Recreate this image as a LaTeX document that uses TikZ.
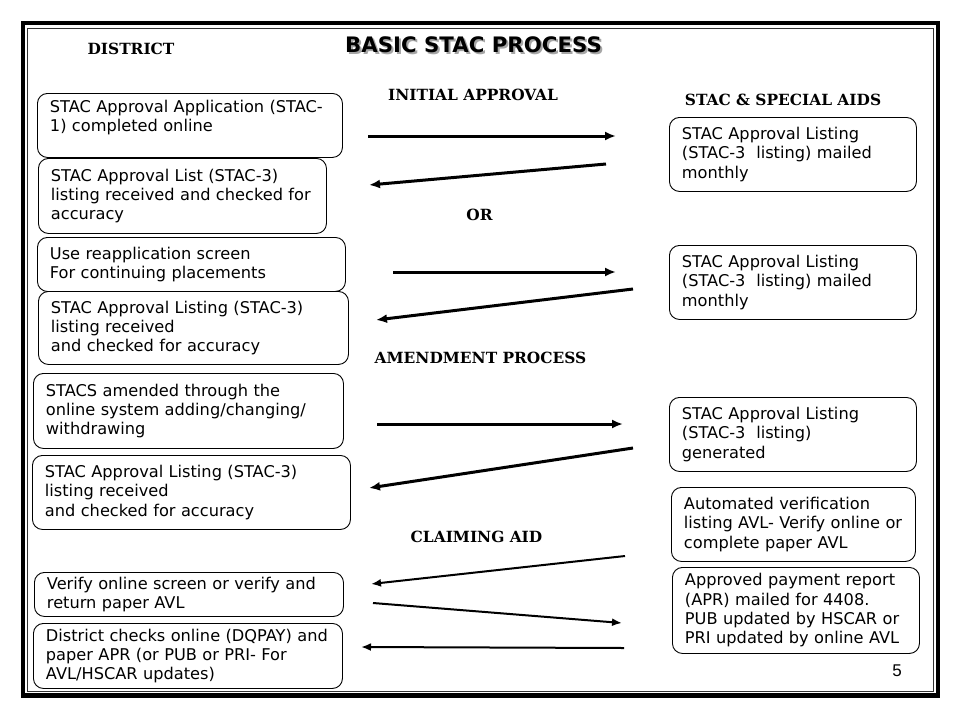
\documentclass[tikz,border=0pt]{standalone}
\usepackage{fontspec}
\setmainfont{DejaVu Sans}
\newfontfamily\headfont{DejaVu Serif}
\newfontfamily\numfont{Liberation Sans}
\usetikzlibrary{arrows.meta}
\newcommand\bl[1]{\mbox{#1}}
\begin{document}
\begin{tikzpicture}[x=1pt,y=-1pt,
  procbox/.style={draw, rounded corners=10pt, line width=0.9pt, align=left,
    anchor=north west, inner xsep=12.5pt, inner ysep=0pt,
    font=\fontsize{16.2}{19.3}\selectfont},
  heading/.style={font=\headfont\bfseries\fontsize{15.4}{17}\selectfont, inner sep=0pt},
  bigarrow/.style={line width=3pt, -{Latex[length=11pt,width=9pt]}},
  thinarrow/.style={line width=2pt, -{Latex[length=10pt,width=8pt]}}
]
\useasboundingbox (0,0) rectangle (960,720);
\fill[white] (0,0) rectangle (960,720);
% frame
\draw[line width=4.5pt] (23,23) rectangle (938,695.5);
\draw[line width=1pt, black!80] (27.5,28) rectangle (933.5,691);

% title with shadow
\node[font=\bfseries\fontsize{21.3}{24}\selectfont, text=black!35, inner sep=0pt] (titleshadow) at (475.5,47) {BASIC STAC PROCESS};
\node[font=\bfseries\fontsize{21.3}{24}\selectfont, inner sep=0pt] (title) at (473.5,45) {BASIC STAC PROCESS};

% headings
\node[heading] (hdist) at (131,49) {DISTRICT};
\node[heading] (hinit) at (473,95) {INITIAL APPROVAL};
\node[heading] (hstac) at (783,100) {STAC \& SPECIAL AIDS};
\node[heading] (hor) at (479.5,215) {OR};
\node[heading] (hamend) at (480.5,358) {AMENDMENT PROCESS};
\node[heading] (hclaim) at (476.5,536.5) {CLAIMING AID};

% left boxes
\node[procbox, text width=280pt, minimum height=64pt] (l1) at (37,93)
  {\bl{STAC Approval Application (STAC-}\\\bl{1) completed online}\\\mbox{}};
\node[procbox, text width=263pt, minimum height=75pt] (l2) at (38,158)
  {\bl{STAC Approval List (STAC-3)}\\\bl{listing received and checked for}\\\bl{accuracy}};
\node[procbox, text width=283pt, minimum height=54pt] (l3) at (37,237)
  {\bl{Use reapplication screen}\\\bl{For continuing placements}};
\node[procbox, text width=285pt, minimum height=73pt] (l4) at (38,291)
  {\bl{STAC Approval Listing (STAC-3)}\\\bl{listing received}\\\bl{and checked for accuracy}};
\node[procbox, text width=285pt, minimum height=75pt] (l5) at (33,373)
  {\bl{STACS amended through the}\\\bl{online system adding/changing/}\\\bl{withdrawing}};
\node[procbox, text width=293pt, minimum height=74pt] (l6) at (32,455)
  {\bl{STAC Approval Listing (STAC-3)}\\\bl{listing received}\\\bl{and checked for accuracy}};
\node[procbox, text width=284pt, minimum height=44pt] (l7) at (34,572)
  {\bl{Verify online screen or verify and}\\\bl{return paper AVL}};
\node[procbox, text width=284pt, minimum height=65pt] (l8) at (33,623)
  {\bl{District checks online (DQPAY) and}\\\bl{paper APR (or PUB or PRI- For}\\\bl{AVL/HSCAR updates)}};

% right boxes
\node[procbox, text width=222pt, minimum height=74pt] (r1) at (669,117)
  {\bl{STAC Approval Listing}\\\bl{(STAC-3~ listing) mailed}\\\bl{monthly}};
\node[procbox, text width=222pt, minimum height=74pt] (r2) at (669,245)
  {\bl{STAC Approval Listing}\\\bl{(STAC-3~ listing) mailed}\\\bl{monthly}};
\node[procbox, text width=222pt, minimum height=74pt] (r3) at (669,397)
  {\bl{STAC Approval Listing}\\\bl{(STAC-3~ listing)}\\\bl{generated}};
\node[procbox, text width=219pt, minimum height=74pt] (r4) at (671,487)
  {\bl{Automated verification}\\\bl{listing AVL- Verify online or}\\\bl{complete paper AVL}};
\node[procbox, text width=222pt, minimum height=86pt] (r5) at (672,567)
  {\bl{Approved payment report}\\\bl{(APR) mailed for 4408.}\\\bl{PUB updated by HSCAR or}\\\bl{PRI updated by online AVL}};

\node[font=\numfont\fontsize{17}{20}\selectfont, inner sep=0pt] (pg) at (897,671) {5};

% arrow end points
\coordinate (a1s) at (368,136);  \coordinate (a1e) at (616,136);
\coordinate (a2s) at (606,164);  \coordinate (a2e) at (369,185);
\coordinate (a3s) at (393,272);  \coordinate (a3e) at (616,272);
\coordinate (a4s) at (633,289);  \coordinate (a4e) at (376,320);
\coordinate (a5s) at (377,424);  \coordinate (a5e) at (623,424);
\coordinate (a6s) at (633,448);  \coordinate (a6e) at (369,488);
\coordinate (a7s) at (625,556);  \coordinate (a7e) at (371,584);
\coordinate (a8s) at (373,603);  \coordinate (a8e) at (622,623);
\coordinate (a9s) at (624,648);  \coordinate (a9e) at (361,647);

\draw[bigarrow] (a1s) -- (a1e);
\draw[bigarrow] (a2s) -- (a2e);
\draw[bigarrow] (a3s) -- (a3e);
\draw[bigarrow] (a4s) -- (a4e);
\draw[bigarrow] (a5s) -- (a5e);
\draw[bigarrow] (a6s) -- (a6e);
\draw[thinarrow] (a7s) -- (a7e);
\draw[thinarrow] (a8s) -- (a8e);
\draw[thinarrow] (a9s) -- (a9e);
\end{tikzpicture}
\end{document}
